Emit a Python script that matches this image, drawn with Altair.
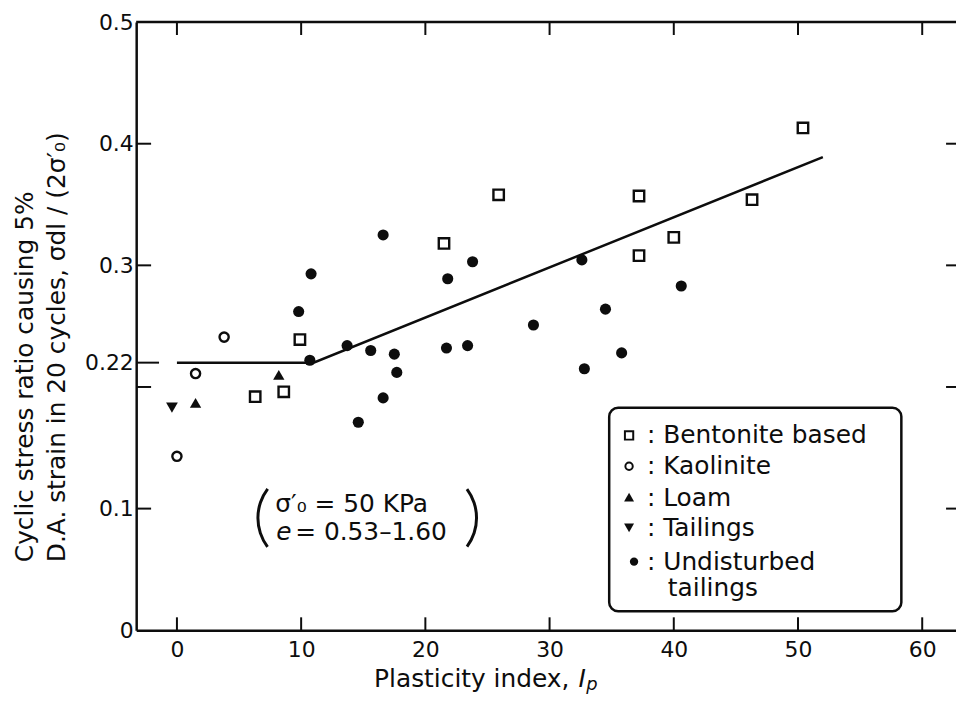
import altair as alt
import pandas as pd

# ---------------- data ----------------
bent_x = [6.3, 8.6, 9.9, 21.5, 25.9, 37.2, 37.2, 40.0, 46.3, 50.4]
bent_y = [0.192, 0.196, 0.239, 0.318, 0.358, 0.357, 0.308, 0.323, 0.354, 0.413]

kaol_x = [0.0, 1.5, 3.8]
kaol_y = [0.143, 0.211, 0.241]

loam_x = [1.5, 8.2]
loam_y = [0.187, 0.210]

tail_x = [-0.4]
tail_y = [0.183]

und_x = [9.8, 10.7, 10.8, 13.7, 14.6, 15.6, 16.6, 16.6, 17.5, 17.7,
         21.7, 21.8, 23.4, 23.8, 28.7, 32.6, 32.8, 34.5, 35.8, 40.6]
und_y = [0.262, 0.222, 0.293, 0.234, 0.171, 0.230, 0.325, 0.191, 0.227, 0.212,
         0.232, 0.289, 0.234, 0.303, 0.251, 0.3045, 0.215, 0.264, 0.228, 0.283]

fit_x = [0, 11, 52]
fit_y = [0.22, 0.22, 0.389]

x_ticks = [0, 10, 20, 30, 40, 50, 60]
y_labels = [0, 0.1, 0.22, 0.3, 0.4, 0.5]
y_inner_ticks = [0.1, 0.2, 0.3, 0.4]
y_special_tick = [0.22]

legend_names = ["Bentonite based", "Kaolinite", "Loam", "Tailings", "Undisturbed", "tailings"]
y_title = ["Cyclic stress ratio causing 5%", "D.A. strain in 20 cycles, σdl / (2σ′₀)"]

# ---------------- layout ----------------
W, H = 825, 612
INK = "#0d0d0d"
FONT = "DejaVu Sans"

xs = alt.Scale(domain=[-3.28, 62.72], nice=False, zero=False)
ys = alt.Scale(domain=[0, 0.5], nice=False, zero=False)

xaxis = alt.Axis(values=x_ticks, ticks=False, grid=False, domainColor=INK, domainWidth=2.5,
                 labelFont=FONT, labelFontSize=22, labelColor=INK, labelPadding=9,
                 labelFlush=False, title=None)
yaxis = alt.Axis(values=y_labels, format=".2~f", ticks=False, grid=False, domainColor=INK,
                 domainWidth=2.5, labelFont=FONT, labelFontSize=22, labelColor=INK,
                 labelPadding=3, labelFlush=False, labelOverlap=False,
                 title=y_title, titleFont=FONT, titleFontSize=25, titleFontWeight="normal",
                 titleColor=INK, titleAngle=270, titleAlign="left", titleBaseline="top",
                 titleX=-124, titleY=543, titleLineHeight=32)

X = lambda f: alt.X(f, scale=xs, axis=xaxis)
Y = lambda f: alt.Y(f, scale=ys, axis=yaxis)

one = pd.DataFrame({"k": [0]})


def pts(xv, yv, shape, filled, size, sw=2.4):
    df = pd.DataFrame({"x": xv, "y": yv})
    return alt.Chart(df).mark_point(shape=shape, filled=filled, size=size, color=INK,
                                     strokeWidth=sw, opacity=1).encode(x=X("x:Q"), y=Y("y:Q"))


fit = alt.Chart(pd.DataFrame({"x": fit_x, "y": fit_y})).mark_line(
    color=INK, strokeWidth=2.5).encode(x=X("x:Q"), y=Y("y:Q"))

layers = [fit,
          pts(bent_x, bent_y, "square", False, 110),
          pts(kaol_x, kaol_y, "circle", False, 85),
          pts(loam_x, loam_y, "triangle-up", True, 130),
          pts(tail_x, tail_y, "triangle-down", True, 140),
          pts(und_x, und_y, "circle", True, 125)]

# inward ticks and top frame line
tx = pd.DataFrame({"t": x_ticks})
layers.append(alt.Chart(tx).mark_rule(color=INK, strokeWidth=2).encode(
    x=X("t:Q"), y=alt.value(H), y2=alt.value(H - 13)))
layers.append(alt.Chart(tx).mark_rule(color=INK, strokeWidth=2).encode(
    x=X("t:Q"), y=alt.value(0), y2=alt.value(13)))
ty = pd.DataFrame({"t": y_inner_ticks})
layers.append(alt.Chart(ty).mark_rule(color=INK, strokeWidth=2).encode(
    y=Y("t:Q"), x=alt.value(0), x2=alt.value(15)))
layers.append(alt.Chart(ty).mark_rule(color=INK, strokeWidth=2).encode(
    y=Y("t:Q"), x=alt.value(W - 10), x2=alt.value(W)))
layers.append(alt.Chart(pd.DataFrame({"t": y_special_tick})).mark_rule(color=INK, strokeWidth=2).encode(
    y=Y("t:Q"), x=alt.value(0), x2=alt.value(23)))
layers.append(alt.Chart(one).mark_rule(color=INK, strokeWidth=2.5).encode(
    x=alt.value(0), x2=alt.value(W), y=alt.value(0)))

# x-axis title (manual for italic I_p)
layers.append(alt.Chart(one).mark_text(text="Plasticity index,", font=FONT, fontSize=25, color=INK,
                                       align="right", baseline="alphabetic").encode(
    x=alt.value(436), y=alt.value(669)))
layers.append(alt.Chart(one).mark_text(text="I", font=FONT, fontSize=25, fontStyle="italic", color=INK,
                                       align="left", baseline="alphabetic").encode(
    x=alt.value(445), y=alt.value(669)))
layers.append(alt.Chart(one).mark_text(text="p", font=FONT, fontSize=18, fontStyle="italic", color=INK,
                                       align="left", baseline="alphabetic").encode(
    x=alt.value(453), y=alt.value(672)))

# annotation with brackets
layers.append(alt.Chart(one).mark_arc(radius=50, radius2=47, theta=4.07, theta2=5.36, color=INK).encode(
    x=alt.value(171), y=alt.value(499)))
layers.append(alt.Chart(one).mark_arc(radius=50, radius2=47, theta=0.93, theta2=2.21, color=INK).encode(
    x=alt.value(294), y=alt.value(499)))
layers.append(alt.Chart(one).mark_text(text="σ′₀ = 50 KPa", font=FONT, fontSize=25, color=INK,
                                       align="left", baseline="alphabetic").encode(
    x=alt.value(140), y=alt.value(493)))
layers.append(alt.Chart(one).mark_text(text="e", font=FONT, fontSize=25, fontStyle="italic", color=INK,
                                       align="left", baseline="alphabetic").encode(
    x=alt.value(141), y=alt.value(521)))
layers.append(alt.Chart(one).mark_text(text="= 0.53–1.60", font=FONT, fontSize=25, color=INK,
                                       align="left", baseline="alphabetic").encode(
    x=alt.value(160), y=alt.value(521)))

# legend box
layers.append(alt.Chart(one).mark_rect(cornerRadius=9, fill="white", stroke=INK, strokeWidth=2.5).encode(
    x=alt.value(476), x2=alt.value(770), y=alt.value(388), y2=alt.value(593)))
leg_sym = [("square", False, 70, 496, 416), ("circle", False, 55, 496, 447),
           ("triangle-up", True, 100, 496, 478), ("triangle-down", True, 100, 496, 509),
           ("circle", True, 70, 501, 543)]
for shape, filled, size, lx, ly in leg_sym:
    layers.append(alt.Chart(one).mark_point(shape=shape, filled=filled, size=size, color=INK,
                                            strokeWidth=2, opacity=1).encode(
        x=alt.value(lx), y=alt.value(ly)))
leg_y = [424, 455, 487, 517, 551]
for name, ly in zip(legend_names[:5], leg_y):
    layers.append(alt.Chart(one).mark_text(text=": " + name, font=FONT, fontSize=25, color=INK,
                                           align="left", baseline="alphabetic").encode(
        x=alt.value(514), y=alt.value(ly)))
layers.append(alt.Chart(one).mark_text(text=legend_names[5], font=FONT, fontSize=25, color=INK,
                                       align="left", baseline="alphabetic").encode(
    x=alt.value(535), y=alt.value(578)))

chart = alt.layer(*layers).properties(
    width=W, height=H,
    autosize=alt.AutoSizeParams(type="none"),
    padding={"left": 129, "top": 12, "right": 0, "bottom": 64},
    background="white",
).configure_view(stroke=None)

chart.save("out.html", embed_options={"renderer": "svg", "actions": False})
